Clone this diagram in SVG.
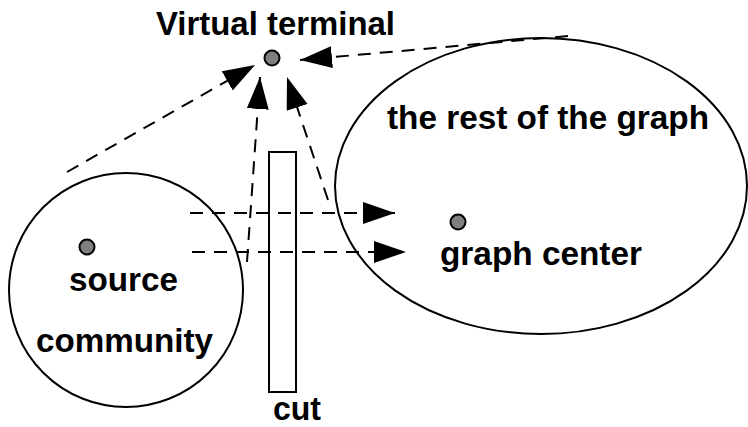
<svg xmlns="http://www.w3.org/2000/svg" width="748" height="427" viewBox="0 0 748 427">
  <style>
    .shape { fill: #ffffff; stroke: #000000; stroke-width: 2; }
    .dot { fill: #808080; stroke: #000000; stroke-width: 2; }
    .label { font-family: "Liberation Sans", Arial, Helvetica, sans-serif; font-weight: bold; font-size: 33px; fill: #000000; }
    .edge { fill: none; stroke: #000000; stroke-width: 2; stroke-dasharray: 13 9; }
  </style>
  <defs>
    <marker id="arrow" markerUnits="userSpaceOnUse" markerWidth="34" markerHeight="24" refX="32" refY="11" orient="auto" viewBox="0 0 34 24">
      <path d="M0,0 L32,11 L0,22 Z" fill="#000000"/>
    </marker>
  </defs>

  <rect width="748" height="427" fill="#ffffff"/>

  <!-- the rest of the graph -->
  <g id="rest-of-graph">
    <ellipse class="shape" cx="541" cy="186" rx="206" ry="148"/>
    <text class="label" x="387" y="129" textLength="322" lengthAdjust="spacingAndGlyphs">the rest of the graph</text>
  </g>

  <!-- source community -->
  <g id="source-community">
    <circle class="shape" cx="126" cy="290" r="117"/>
    <circle class="dot" cx="87" cy="247" r="7.5"/>
    <text class="label" x="69" y="291" textLength="109" lengthAdjust="spacingAndGlyphs">source</text>
    <text class="label" x="36" y="352" textLength="177" lengthAdjust="spacingAndGlyphs">community</text>
  </g>

  <!-- cut -->
  <g id="cut">
    <rect class="shape" x="269" y="152" width="27" height="240"/>
    <text class="label" x="273" y="420" textLength="48" lengthAdjust="spacingAndGlyphs">cut</text>
  </g>

  <!-- virtual terminal -->
  <g id="virtual-terminal">
    <circle class="dot" cx="272" cy="58" r="7.5"/>
    <text class="label" x="156" y="35" textLength="239" lengthAdjust="spacingAndGlyphs">Virtual terminal</text>
  </g>

  <!-- graph center -->
  <g id="graph-center">
    <circle class="dot" cx="458" cy="222" r="7.5"/>
    <text class="label" x="440" y="265" textLength="202" lengthAdjust="spacingAndGlyphs">graph center</text>
  </g>

  <!-- connectors -->
  <g id="connectors">
    <line class="edge" x1="67" y1="172" x2="255" y2="65" marker-end="url(#arrow)"/>
    <line class="edge" x1="247" y1="262" x2="260" y2="77" marker-end="url(#arrow)"/>
    <line class="edge" x1="328" y1="200" x2="287" y2="77" marker-end="url(#arrow)"/>
    <line class="edge" x1="568" y1="36" x2="300" y2="60" marker-end="url(#arrow)"/>
    <line class="edge" x1="190" y1="213" x2="395" y2="213" marker-end="url(#arrow)"/>
    <line class="edge" x1="192" y1="252" x2="406" y2="252" marker-end="url(#arrow)"/>
  </g>
</svg>
